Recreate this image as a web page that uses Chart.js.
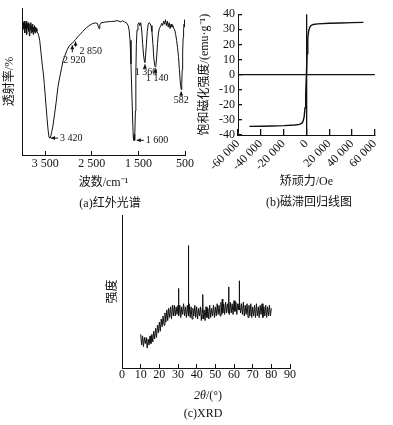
<!DOCTYPE html>
<html>
<head>
<meta charset="utf-8">
<script src="https://cdn.jsdelivr.net/npm/chart.js@4.4.1/dist/chart.umd.min.js"></script>
<style>
  body { margin: 0; background: #fff; }
  .box { position: absolute; }
  .cap { position: absolute; font-family: 'Liberation Serif', 'Noto Sans CJK SC', serif; font-size: 12px; line-height: 14px; color: #111; text-align: center; white-space: nowrap; }
</style>
</head>
<body>
<div class="box" style="left:0;top:0"><canvas id="chartIR" width="200" height="195"></canvas></div>
<div class="box" style="left:190px;top:0"><canvas id="chartMag" width="203" height="195"></canvas></div>
<div class="box" style="left:95px;top:205px"><canvas id="chartXRD" width="205" height="200"></canvas></div>

<div class="cap" style="left:60px;top:196px;width:100px">(a)红外光谱</div>
<div class="cap" style="left:249px;top:195px;width:120px">(b)磁滞回归线图</div>
<div class="cap" style="left:158px;top:388px;width:100px"><i>2θ</i>/(°)</div>
<div class="cap" style="left:153px;top:406px;width:100px">(c)XRD</div>

<script>
const FONT = "'Liberation Serif', 'Noto Sans CJK SC', serif";

// (a) 红外光谱: [波数, 透射率]
const irPoints = [
  [4000, 88], [3990, 91], [3980, 85], [3970, 90], [3960, 86], [3950, 91], [3940, 83], [3930, 89],
  [3920, 86], [3910, 91], [3900, 82], [3890, 89], [3880, 86], [3870, 90], [3860, 84], [3850, 88],
  [3840, 81], [3830, 89], [3820, 85], [3810, 90], [3800, 83], [3790, 88], [3780, 84], [3770, 89],
  [3760, 82], [3750, 87], [3740, 84], [3730, 88], [3720, 83], [3710, 87], [3700, 84], [3690, 86],
  [3680, 84], [3660, 83], [3640, 81], [3620, 78], [3600, 72], [3580, 66], [3560, 60], [3540, 55],
  [3520, 48], [3500, 40], [3480, 32], [3460, 24], [3440, 17], [3420, 12], [3400, 11.5], [3380, 13],
  [3360, 16], [3340, 19], [3300, 28], [3260, 37.5], [3230, 46], [3190, 53], [3150, 59], [3120, 64],
  [3085, 67], [3040, 71], [2980, 74.5], [2920, 76], [2880, 77.5], [2850, 78.5], [2800, 80.5],
  [2740, 82.5], [2700, 84], [2620, 86.5], [2560, 88], [2480, 89.5], [2420, 89.8], [2380, 89.5],
  [2360, 87], [2345, 86], [2330, 88.5], [2300, 90], [2200, 90.5], [2100, 90.8], [2000, 91],
  [1960, 91.5], [1920, 91], [1880, 90.6], [1840, 91.3], [1800, 90.5], [1760, 90], [1720, 88],
  [1700, 85], [1680, 78], [1660, 62], [1640, 40], [1620, 20], [1610, 12], [1600, 10], [1592, 14],
  [1585, 11], [1577, 10], [1565, 30], [1555, 55], [1545, 75], [1530, 85], [1510, 89], [1490, 90],
  [1470, 88], [1450, 90], [1430, 85], [1410, 76], [1390, 68], [1370, 63.5], [1360, 63], [1350, 66],
  [1330, 75], [1310, 84], [1290, 89], [1270, 90], [1250, 89.5], [1230, 88], [1210, 84], [1190, 76],
  [1170, 66], [1150, 61], [1140, 60], [1125, 61], [1110, 66], [1090, 76], [1070, 83], [1050, 86],
  [1020, 88], [1000, 89.5], [980, 88], [960, 91], [940, 89], [920, 92], [900, 88], [880, 91],
  [860, 87], [840, 90], [820, 86], [800, 89], [780, 87], [760, 88], [740, 86], [720, 85], [700, 82],
  [680, 78], [660, 73], [640, 67], [620, 58], [600, 49], [582, 44.5], [570, 48], [560, 58], [550, 70],
  [540, 80], [530, 86], [520, 89], [510, 87], [505, 92], [500, 88]
];
const irTicks = [3500, 2500, 1500, 500];
const irPeakWave = [3420, 2920, 2850, 1600, 1360, 1140, 582];
const irPeakValue = [11.5, 76, 78.5, 10, 63, 60, 44.5];

// (b) 磁滞回线: 矫顽力 / 饱和磁化强度
const magField = [-50000, -40000, -30000, -20000, -10000, -6000, -4000, -3000, -2000, -1200, -600, 0,
  600, 1200, 2000, 3000, 4000, 6000, 10000, 20000, 30000, 40000, 50000];
const magValue = [-34.3, -34.2, -34, -33.8, -33.4, -33, -32.2, -31, -28, -22, -12, 0,
  14, 24, 29, 31.5, 32.5, 33.2, 33.6, 34, 34.2, 34.4, 34.6];

// (c) XRD: [2θ, 强度]
const xrdPoints = [
  [10, 22], [10.5, 15], [11, 21], [11.5, 14], [12, 20], [12.5, 16], [13, 20], [13.5, 13], [14, 19],
  [14.5, 15], [15, 21], [15.5, 16], [16, 22], [16.5, 17], [17, 24], [17.5, 19], [18, 26], [18.5, 20],
  [19, 28], [19.5, 23], [20, 30], [20.5, 24], [21, 32], [21.5, 27], [22, 34], [22.5, 28], [23, 36],
  [23.5, 30], [24, 38], [24.5, 31], [25, 39], [25.5, 33], [26, 40], [26.5, 32], [27, 41], [27.5, 34],
  [28, 41], [28.5, 34], [29, 40], [29.5, 35], [30, 41], [30.2, 40], [30.3, 52], [30.4, 36], [30.5, 34],
  [31, 41], [31.5, 33], [32, 40], [32.5, 35], [33, 42], [33.5, 34], [34, 40], [34.5, 33], [35, 41],
  [35.5, 34], [35.6, 80], [35.7, 35], [36, 42], [36.5, 33], [37, 40], [37.5, 32], [38, 39], [38.5, 34],
  [39, 41], [39.5, 33], [40, 40], [40.5, 32], [41, 39], [41.5, 34], [42, 40], [42.5, 31], [43, 39],
  [43.2, 36], [43.3, 48], [43.4, 35], [43.5, 32], [44, 38], [44.5, 31], [45, 40], [45.5, 33], [46, 39],
  [46.5, 32], [47, 41], [47.5, 33], [48, 39], [48.5, 34], [49, 41], [49.5, 33], [50, 40], [50.5, 34],
  [51, 42], [51.5, 35], [52, 41], [52.5, 34], [53, 43], [53.5, 35], [53.7, 45], [54, 36], [54.5, 42],
  [55, 35], [55.5, 43], [56, 36], [56.5, 42], [57, 36], [57.1, 40], [57.2, 53], [57.3, 37], [57.5, 35],
  [58, 43], [58.5, 36], [59, 42], [59.5, 35], [60, 44], [60.5, 37], [61, 43], [61.5, 35], [62, 42],
  [62.5, 38], [62.7, 42], [62.8, 57], [62.9, 38], [63, 44], [63.5, 36], [64, 42], [64.5, 35], [65, 43],
  [65.5, 34], [66, 41], [66.5, 35], [67, 42], [67.5, 33], [68, 41], [68.5, 34], [69, 42], [69.5, 33],
  [70, 40], [70.5, 34], [71, 41], [71.5, 33], [72, 42], [72.5, 34], [73, 40], [73.5, 33], [74, 41],
  [74.5, 35], [75, 42], [75.5, 33], [76, 40], [76.5, 34], [77, 41], [77.5, 33], [78, 40], [78.5, 34],
  [79, 41], [79.5, 34], [80, 39]
];

const fmt = v => {
  const s = String(Math.abs(v));
  const t = s.length > 3 ? s.slice(0, -3) + ' ' + s.slice(-3) : s;
  return (v < 0 ? '-' : '') + t;
};

const tickFont = { family: FONT, size: 12 };
const titleFont = { family: FONT, size: 12 };

// 箭头标注的样式 (与数据分开)
const peakStyle = [
  { dir: 'left', gap: 2, len: 7, tx: 11, ty: 0, align: 'left' },
  { dir: 'up', gap: 2, len: 7, tx: 2, ty: 17, align: 'center' },
  { dir: 'up', gap: 2, len: 5, tx: 4, ty: 12, align: 'left' },
  { dir: 'left', gap: 3, len: 7, tx: 12, ty: 0, align: 'left' },
  { dir: 'up', gap: 2, len: 5, tx: 1, ty: 10, align: 'center' },
  { dir: 'up', gap: 2, len: 5, tx: 2, ty: 12, align: 'center' },
  { dir: 'up', gap: 2, len: 5, tx: 0, ty: 11, align: 'center' }
];

const peakLabels = {
  id: 'peakLabels',
  afterDatasetsDraw(chart) {
    const { ctx, scales: { x, y } } = chart;
    ctx.save();
    ctx.fillStyle = '#111';
    ctx.strokeStyle = '#111';
    ctx.lineWidth = 1;
    ctx.font = '10px ' + FONT;
    ctx.textBaseline = 'middle';
    irPeakWave.forEach((w, i) => {
      const st = peakStyle[i];
      const px = x.getPixelForValue(w);
      const py = y.getPixelForValue(irPeakValue[i]);
      ctx.beginPath();
      if (st.dir === 'left') {
        const tip = px + st.gap;
        ctx.moveTo(tip, py); ctx.lineTo(tip + st.len, py); ctx.stroke();
        ctx.beginPath();
        ctx.moveTo(tip, py); ctx.lineTo(tip + 4, py - 2); ctx.lineTo(tip + 4, py + 2);
      } else {
        const tip = py + st.gap;
        ctx.moveTo(px, tip); ctx.lineTo(px, tip + st.len); ctx.stroke();
        ctx.beginPath();
        ctx.moveTo(px, tip); ctx.lineTo(px - 2, tip + 4); ctx.lineTo(px + 2, tip + 4);
      }
      ctx.closePath();
      ctx.fill();
      ctx.textAlign = st.align;
      ctx.fillText(fmt(w), px + st.tx, py + st.ty);
    });
    ctx.restore();
  }
};

const plainGrid = { display: true, drawOnChartArea: false, drawTicks: true, tickLength: -4, color: '#111', tickColor: '#111' };
const noGrid = { display: false };
const border = { display: true, color: '#111', width: 1 };

// (a) 红外光谱
new Chart(document.getElementById('chartIR'), {
  type: 'line',
  data: {
    datasets: [{
      data: irPoints.map(p => ({ x: p[0], y: p[1] })),
      borderColor: '#111',
      borderWidth: 1,
      pointRadius: 0,
      tension: 0
    }]
  },
  options: {
    responsive: false,
    animation: false,
    devicePixelRatio: 1,
    layout: { padding: { left: 0, right: 13, top: 8, bottom: 0 } },
    plugins: { legend: { display: false }, tooltip: { enabled: false } },
    scales: {
      x: {
        type: 'linear', reverse: true, min: 500, max: 4000,
        afterBuildTicks: s => { s.ticks = irTicks.map(v => ({ value: v })); },
        afterFit: s => { s.height = 40; },
        ticks: { font: tickFont, color: '#111', padding: 6, maxRotation: 0, autoSkip: false, callback: v => fmt(v) },
        grid: plainGrid, border,
        title: { display: true, text: '波数/cm⁻¹', font: titleFont, color: '#111', padding: 5 }
      },
      y: {
        min: 0, max: 100,
        afterFit: s => { s.width = 22; },
        ticks: { display: false },
        grid: noGrid, border,
        title: { display: true, text: '透射率/%', font: titleFont, color: '#111', padding: 3 }
      }
    }
  },
  plugins: [peakLabels]
});

// (b) 磁滞回归线图
const zeroLine = ctx => (ctx.tick && ctx.tick.value === 0 ? '#111' : 'rgba(0,0,0,0)');
new Chart(document.getElementById('chartMag'), {
  type: 'line',
  data: {
    datasets: [{
      data: magField.map((f, i) => ({ x: f, y: magValue[i] })),
      borderColor: '#111',
      borderWidth: 1.4,
      pointRadius: 0,
      tension: 0
    }]
  },
  options: {
    responsive: false,
    animation: false,
    devicePixelRatio: 1,
    layout: { padding: { left: 0, right: 13, top: 6, bottom: 0 } },
    plugins: { legend: { display: false }, tooltip: { enabled: false } },
    scales: {
      x: {
        type: 'linear', min: -60000, max: 60000,
        afterFit: s => { s.height = 60; },
        ticks: { stepSize: 20000, autoSkip: false, font: tickFont, color: '#111', padding: 8, minRotation: 45, maxRotation: 45, callback: v => fmt(v) },
        grid: { display: true, drawOnChartArea: true, drawTicks: true, tickLength: -6, color: zeroLine, tickColor: '#111', lineWidth: 1.3 },
        border,
        title: { display: true, text: '矫顽力/Oe', font: titleFont, color: '#111', padding: 6 }
      },
      y: {
        min: -40, max: 40,
        afterFit: s => { s.width = 48; },
        ticks: { stepSize: 10, autoSkip: false, font: tickFont, color: '#111', padding: 7 },
        grid: { display: true, drawOnChartArea: true, drawTicks: true, tickLength: -4, color: zeroLine, tickColor: '#111', lineWidth: 1.3 },
        border,
        title: { display: true, text: '饱和磁化强度/(emu·g⁻¹)', font: titleFont, color: '#111', padding: 8 }
      }
    }
  }
});

// (c) XRD
new Chart(document.getElementById('chartXRD'), {
  type: 'line',
  data: {
    datasets: [{
      data: xrdPoints.map(p => ({ x: p[0], y: p[1] })),
      borderColor: '#111',
      borderWidth: 1,
      pointRadius: 0,
      tension: 0
    }]
  },
  options: {
    responsive: false,
    animation: false,
    devicePixelRatio: 1,
    layout: { padding: { left: 0, right: 10, top: 10, bottom: 0 } },
    plugins: { legend: { display: false }, tooltip: { enabled: false } },
    scales: {
      x: {
        type: 'linear', min: 0, max: 90,
        afterFit: s => { s.height = 37; },
        ticks: { stepSize: 10, autoSkip: false, font: tickFont, color: '#111', padding: 4, maxRotation: 0 },
        grid: plainGrid, border
      },
      y: {
        min: 0, max: 100,
        afterFit: s => { s.width = 27; },
        ticks: { display: false },
        grid: noGrid, border,
        title: { display: true, text: '强度', font: titleFont, color: '#111', padding: 11 }
      }
    }
  }
});
</script>
</body>
</html>
